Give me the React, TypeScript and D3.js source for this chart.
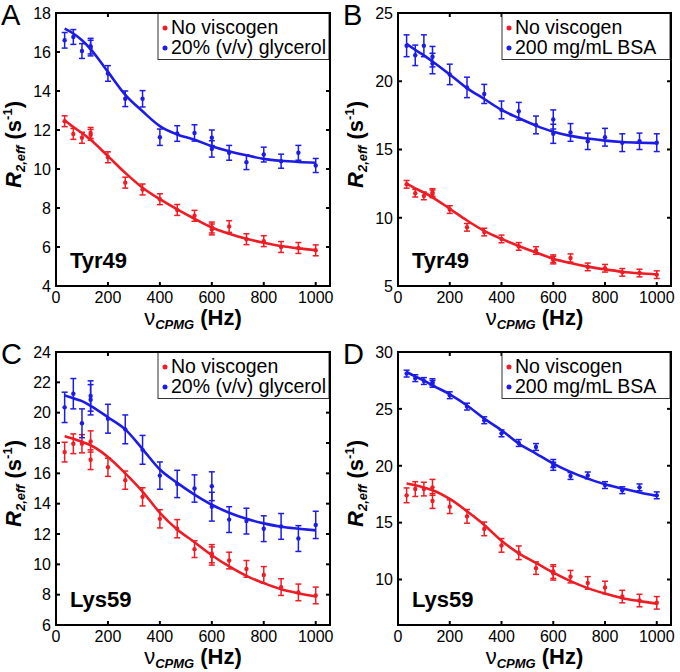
import * as d3 from 'd3'
import React from 'react'

// CPMG frequencies (Hz); 133 and 600 Hz were measured twice
const nuCpmg = [33.3, 66.7, 100, 133.3, 133.3, 200, 266.7, 333.3, 400, 466.7, 533.3, 600, 600, 666.7, 733.3, 800, 866.7, 933.3, 1000]
// grid for the fitted curves
const fitNu = [33.3, 66.7, 100, 133.3, 200, 266.7, 333.3, 400, 466.7, 533.3, 600, 666.7, 733.3, 800, 866.7, 933.3, 1000]

// Tyr49
const tyr49NoVisc = [12.45, 11.8, 11.6, 11.75, 11.85, 10.6, 9.3, 8.95, 8.45, 7.9, 7.6, 6.9, 7.0, 7.05, 6.4, 6.3, 6.0, 5.95, 5.83]
const tyr49NoViscErr = [0.28, 0.28, 0.28, 0.28, 0.28, 0.28, 0.28, 0.28, 0.28, 0.28, 0.28, 0.28, 0.28, 0.3, 0.28, 0.28, 0.28, 0.28, 0.28]
const tyr49NoViscFit = [12.5, 12.15, 11.85, 11.5, 10.66, 9.8, 9.04, 8.45, 7.93, 7.45, 7.0, 6.68, 6.42, 6.22, 6.05, 5.93, 5.84]

const tyr49Glyc = [16.6, 16.77, 16.05, 16.3, 16.2, 14.9, 13.6, 13.6, 11.63, 11.82, 11.85, 11.6, 11.03, 10.83, 10.35, 10.74, 10.4, 10.83, 10.18]
const tyr49GlycErr = [0.4, 0.38, 0.38, 0.4, 0.4, 0.4, 0.4, 0.42, 0.42, 0.4, 0.42, 0.4, 0.42, 0.38, 0.38, 0.38, 0.36, 0.38, 0.36]
const tyr49GlycFit = [17.2, 16.95, 16.6, 16.15, 14.98, 13.8, 12.96, 12.2, 11.77, 11.5, 11.17, 10.91, 10.7, 10.52, 10.42, 10.36, 10.32]

const tyr49Bsa = [22.6, 21.9, 22.6, 21.8, 21.3, 20.5, 19.55, 19.07, 17.9, 17.8, 16.8, 17.2, 16.15, 16.25, 15.6, 15.9, 15.5, 15.6, 15.5]
const tyr49BsaErr = [0.8, 0.75, 0.8, 0.75, 0.75, 0.75, 0.75, 0.7, 0.65, 0.65, 0.65, 0.7, 0.7, 0.65, 0.6, 0.65, 0.65, 0.6, 0.65]
const tyr49BsaFit = [22.75, 22.3, 21.9, 21.45, 20.5, 19.5, 18.7, 17.9, 17.3, 16.75, 16.3, 16.0, 15.8, 15.65, 15.55, 15.5, 15.47]

// Lys59
const lys59NoVisc = [17.4, 17.95, 17.95, 18.1, 16.9, 16.4, 15.55, 14.45, 13.0, 12.35, 11.0, 10.7, 10.55, 10.25, 9.7, 9.3, 8.5, 8.15, 7.95]
const lys59NoViscErr = [0.65, 0.65, 0.6, 0.7, 0.65, 0.6, 0.6, 0.6, 0.6, 0.6, 0.55, 0.6, 0.6, 0.55, 0.55, 0.55, 0.55, 0.55, 0.55]
const lys59NoViscFit = [18.45, 18.28, 18.08, 17.85, 17.08, 16.0, 14.8, 13.4, 12.3, 11.46, 10.6, 9.86, 9.24, 8.76, 8.36, 8.1, 7.88]

const lys59Glyc = [20.35, 21.25, 19.3, 21.1, 20.85, 19.6, 18.9, 17.55, 15.85, 15.3, 15.0, 15.15, 13.8, 12.95, 12.85, 12.35, 12.5, 11.7, 12.6]
const lys59GlycErr = [1.0, 1.0, 0.95, 1.0, 1.0, 0.95, 0.95, 0.95, 0.9, 0.9, 0.9, 0.95, 0.95, 0.85, 0.85, 0.85, 0.85, 0.85, 0.9]
const lys59GlycFit = [21.14, 20.95, 20.76, 20.45, 19.7, 18.9, 17.6, 16.25, 15.37, 14.6, 13.93, 13.4, 13.0, 12.7, 12.48, 12.35, 12.24]

const lys59Bsa = [28.1, 27.7, 27.45, 27.2, 27.35, 26.2, 25.2, 24.0, 22.85, 22.0, 21.65, 20.2, 19.95, 19.1, 19.15, 18.3, 17.85, 18.1, 17.4]
const lys59BsaErr = [0.3, 0.3, 0.3, 0.3, 0.3, 0.3, 0.3, 0.3, 0.3, 0.3, 0.3, 0.35, 0.35, 0.3, 0.3, 0.3, 0.3, 0.3, 0.3]
const lys59BsaFit = [28.24, 27.85, 27.5, 27.07, 26.28, 25.3, 24.14, 23.12, 21.95, 21.07, 20.19, 19.46, 18.87, 18.37, 18.0, 17.65, 17.35]

const xTicks = [0, 200, 400, 600, 800, 1000]

const RED = '#ee1c24'
const BLUE = '#1c1ce6'
const FONT = 'Liberation Sans, Arial, Helvetica, sans-serif'

const panels = [
    { letter: 'A', residue: 'Tyr49', box: [56, 13, 330, 286], yDomain: [4, 18], yTicks: [4, 6, 8, 10, 12, 14, 16, 18],
      blueName: '20% (v/v) glycerol', red: [tyr49NoVisc, tyr49NoViscErr, tyr49NoViscFit], blue: [tyr49Glyc, tyr49GlycErr, tyr49GlycFit], legendW: 171 },
    { letter: 'B', residue: 'Tyr49', box: [398, 13, 671, 286], yDomain: [5, 25], yTicks: [5, 10, 15, 20, 25],
      blueName: '200 mg/mL BSA', red: [tyr49NoVisc, tyr49NoViscErr, tyr49NoViscFit], blue: [tyr49Bsa, tyr49BsaErr, tyr49BsaFit], legendW: 168 },
    { letter: 'C', residue: 'Lys59', box: [56, 352, 330, 625], yDomain: [6, 24], yTicks: [6, 8, 10, 12, 14, 16, 18, 20, 22, 24],
      blueName: '20% (v/v) glycerol', red: [lys59NoVisc, lys59NoViscErr, lys59NoViscFit], blue: [lys59Glyc, lys59GlycErr, lys59GlycFit], legendW: 171 },
    { letter: 'D', residue: 'Lys59', box: [398, 352, 671, 625], yDomain: [6, 30], yTicks: [10, 15, 20, 25, 30],
      blueName: '200 mg/mL BSA', red: [lys59NoVisc, lys59NoViscErr, lys59NoViscFit], blue: [lys59Bsa, lys59BsaErr, lys59BsaFit], legendW: 168 },
]

function Series({ x, y, vals, errs, fit, color }) {
    const line = d3.line<number>()
        .x((_, i) => x(fitNu[i]))
        .y((d) => y(d))
        .curve(d3.curveMonotoneX)
    return (
        <g>
            <path d={line(fit) || ''} fill='none' stroke={color} strokeWidth={2.6} />
            {vals.map((v, i) => {
                const cx = x(nuCpmg[i])
                const top = y(v + errs[i])
                const bot = y(v - errs[i])
                return (
                    <g key={i} stroke={color} strokeWidth={1.5}>
                        <line x1={cx} x2={cx} y1={top} y2={bot} />
                        <line x1={cx - 3} x2={cx + 3} y1={top} y2={top} />
                        <line x1={cx - 3} x2={cx + 3} y1={bot} y2={bot} />
                        <circle cx={cx} cy={y(v)} r={2.2} fill={color} stroke='none' />
                    </g>
                )
            })}
        </g>
    )
}

function Panel({ p }) {
    const [l, t, r, b] = p.box
    const x = d3.scaleLinear().domain([0, 1055]).range([l, r])
    const y = d3.scaleLinear().domain(p.yDomain).range([b, t])
    const tl = 4
    const cxTitle = (l + r) / 2
    const cyTitle = (t + b) / 2 - 5
    const lw = p.legendW
    return (
        <g fontFamily={FONT}>
            <text x={l - 55} y={t + 12} fontSize={29}>{p.letter}</text>

            <Series x={x} y={y} vals={p.red[0]} errs={p.red[1]} fit={p.red[2]} color={RED} />
            <Series x={x} y={y} vals={p.blue[0]} errs={p.blue[1]} fit={p.blue[2]} color={BLUE} />

            {/* ticks on all four sides, pointing in */}
            <g stroke='#000' strokeWidth={2}>
                {p.yTicks.map((v) => (
                    <g key={v}>
                        <line x1={l} x2={l + tl} y1={y(v)} y2={y(v)} />
                        <line x1={r} x2={r - tl} y1={y(v)} y2={y(v)} />
                    </g>
                ))}
                {xTicks.map((v) => (
                    <g key={v}>
                        <line x1={x(v)} x2={x(v)} y1={b} y2={b - tl} />
                        <line x1={x(v)} x2={x(v)} y1={t} y2={t + tl} />
                    </g>
                ))}
            </g>

            {/* legend */}
            <g>
                <rect x={r - lw - 1} y={t + 0.5} width={lw} height={46} fill='#fff' stroke='#333' strokeWidth={1} />
                <circle cx={r - lw + 6} cy={t + 15} r={2.5} fill={RED} />
                <text x={r - lw + 12} y={t + 21} fontSize={19.5}>No viscogen</text>
                <circle cx={r - lw + 6} cy={t + 35} r={2.5} fill={BLUE} />
                <text x={r - lw + 12} y={t + 41} fontSize={19.5}>{p.blueName}</text>
            </g>

            <rect x={l} y={t} width={r - l} height={b - t} fill='none' stroke='#000' strokeWidth={2} />

            <text x={l + 14} y={b - 18} fontSize={22} fontWeight='bold'>{p.residue}</text>

            {/* tick labels */}
            {p.yTicks.map((v) => (
                <text key={v} x={l - 5} y={y(v)} dy='0.36em' textAnchor='end' fontSize={16}>{v}</text>
            ))}
            {xTicks.map((v) => (
                <text key={v} x={x(v)} y={b + 17} textAnchor='middle' fontSize={16}>{v}</text>
            ))}

            {/* axis titles */}
            <text x={cxTitle} y={b + 39} textAnchor='middle' fontSize={22}>
                <tspan>ν</tspan>
                <tspan fontSize={13} fontWeight='bold' fontStyle='italic' dy={4}>CPMG</tspan>
                <tspan fontWeight='bold' fontSize={22} dy={-4}> (Hz)</tspan>
            </text>
            <text transform={`translate(${l - 35},${cyTitle}) rotate(-90)`} textAnchor='middle' fontSize={22} fontWeight='bold'>
                <tspan fontStyle='italic'>R</tspan>
                <tspan fontSize={13} fontStyle='italic' dy={4}>2,eff</tspan>
                <tspan dy={-4}> (s</tspan>
                <tspan fontSize={13} dy={-9}>-1</tspan>
                <tspan dy={9}>)</tspan>
            </text>
        </g>
    )
}

export default function App() {
    return (
        <svg width={680} height={672} style={{ position: 'absolute', left: 0, top: 0, background: '#fff' }}>
            {panels.map((p) => <Panel key={p.letter} p={p} />)}
        </svg>
    )
}
